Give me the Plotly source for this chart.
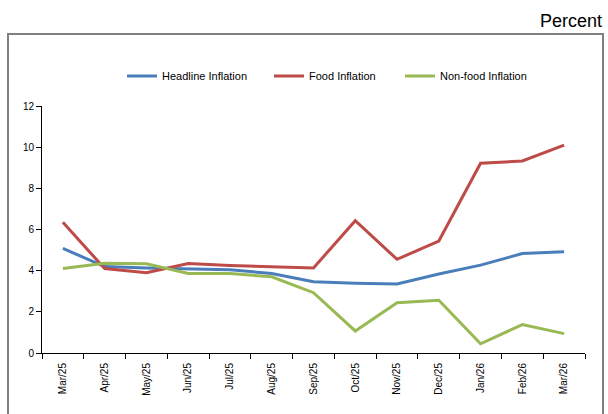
import plotly.graph_objects as go

months = ["Mar/25", "Apr/25", "May/25", "Jun/25", "Jul/25", "Aug/25", "Sep/25",
          "Oct/25", "Nov/25", "Dec/25", "Jan/26", "Feb/26", "Mar/26"]
headline = [5.08, 4.20, 4.13, 4.08, 4.05, 3.86, 3.46, 3.39, 3.35, 3.84, 4.27, 4.83, 4.92]
food = [6.35, 4.10, 3.90, 4.35, 4.25, 4.18, 4.13, 6.43, 4.55, 5.44, 9.22, 9.33, 10.10]
nonfood = [4.10, 4.36, 4.34, 3.86, 3.86, 3.70, 2.93, 1.07, 2.44, 2.56, 0.45, 1.38, 0.94]

series = [
    ("Headline Inflation", headline, "#4A7EBB", "legend"),
    ("Food Inflation", food, "#BE4B48", "legend2"),
    ("Non-food Inflation", nonfood, "#98B954", "legend3"),
]

fig = go.Figure()
for name, vals, col, lg in series:
    fig.add_trace(go.Scatter(x=months, y=vals, mode="lines", name=name, legend=lg,
                             line=dict(color=col, width=3)))

L, R, T, B = 42, 23, 106, 61
W, H = 608, 414
pw = W - L - R
ph = H - T - B

def px_x(x):
    return (x - L) / pw

def px_y(y):
    return (H - B - y) / ph

def legend_at(xpx):
    return dict(orientation="h", x=px_x(xpx), y=px_y(76), xanchor="left", yanchor="middle",
                font=dict(size=11), bgcolor="rgba(0,0,0,0)")

fig.update_layout(
    width=W, height=H,
    margin=dict(l=L, r=R, t=T, b=B, autoexpand=False),
    paper_bgcolor="white", plot_bgcolor="white",
    font=dict(family="Liberation Sans, Arial", color="#000", size=10),
    showlegend=True,
    legend=legend_at(122),
    legend2=legend_at(269),
    legend3=legend_at(400),
    xaxis=dict(type="category", range=[-0.5, 12.5], tickson="boundaries", ticks="outside",
               ticklen=5, tickcolor="#000", showline=True, linecolor="#000", linewidth=1,
               showgrid=False, tickangle=-90, tickfont=dict(size=10), zeroline=False,
               ticklabelstandoff=5),
    yaxis=dict(range=[0, 12], dtick=2, ticks="outside", ticklen=5, tickcolor="#000",
               showline=True, linecolor="#000", linewidth=1, showgrid=False,
               zeroline=False, tickfont=dict(size=10)),
    shapes=[dict(type="rect", xref="paper", yref="paper",
                 x0=px_x(8), x1=px_x(603), y0=px_y(440), y1=px_y(34),
                 line=dict(color="#808080", width=2), fillcolor="rgba(0,0,0,0)")],
    annotations=[dict(text="Percent", xref="paper", yref="paper", x=px_x(604), y=px_y(21),
                      xanchor="right", yanchor="middle", showarrow=False,
                      font=dict(size=18, color="#000"))],
)

fig.write_html("out.html")
